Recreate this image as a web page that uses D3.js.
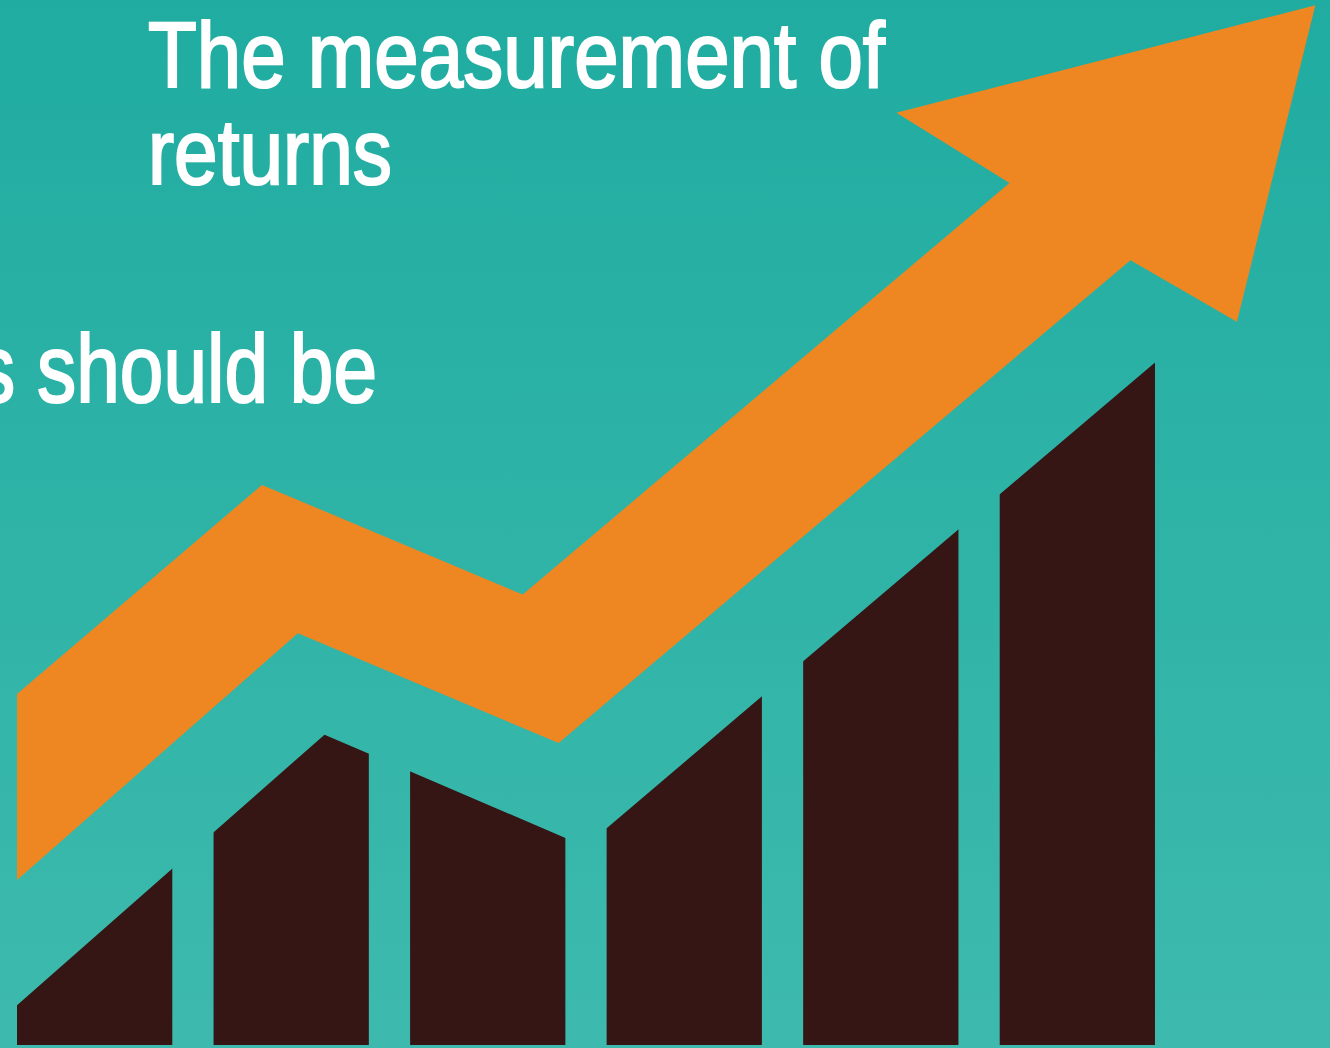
<!DOCTYPE html>
<html>
<head>
<meta charset="utf-8">
<script src="https://cdn.jsdelivr.net/npm/d3@7"></script>
<style>
    body { margin: 0; background: #2bb2a6; }
    svg { display: block; }
</style>
</head>
<body>
<div id="chart"></div>
<script>
// bar categories
const periods = ["1", "2", "3", "4", "5", "6"];

// line the slanted bar tops follow, [x %, value %]
const barCeiling = [[1.28, 3.8], [24.4, 29.7], [44.0, 19.0], [87.2, 65.7]];

// orange arrow outline: upper edge (left -> head), head, lower edge (head -> left)
const arrowUpper = [[1.28, 33.6], [19.7, 53.6], [39.3, 43.1], [75.9, 82.5]];
const arrowHead = [[67.4, 89.2], [98.9, 99.5], [93.0, 69.2], [85.0, 75.1]];
const arrowLower = [[42.0, 28.9], [22.4, 39.4], [1.28, 15.8]];

const titleLines = ["The measurement of", "returns"];
const sideText = "s should be";

class ReturnsChart {
    constructor() {
        this.width = 1330;
        this.height = 1048;
        this.baseline = 1045;

        this.svg = null;
        this.x = null;
        this.y = null;
        this.band = null;
    }

    createSVG() {
        this.svg = d3.select("#chart")
            .append("svg")
            .attr("width", this.width)
            .attr("height", this.height);

        let defs = this.svg.append("defs");
        let grad = defs.append("linearGradient")
            .attr("id", "bg")
            .attr("x1", 0).attr("y1", 0)
            .attr("x2", 0).attr("y2", 1);
        grad.append("stop").attr("offset", "0%").attr("stop-color", "#20aca1");
        grad.append("stop").attr("offset", "100%").attr("stop-color", "#3dbaad");

        this.svg.append("rect")
            .attr("width", this.width)
            .attr("height", this.height)
            .attr("fill", "url(#bg)");
    }

    init() {
        this.x = d3.scaleLinear()
            .domain([0, 100])
            .range([0, this.width]);

        this.y = d3.scaleLinear()
            .domain([0, 100])
            .range([this.baseline, 0]);

        this.band = d3.scaleBand()
            .domain(periods)
            .range([this.x(1.28), this.x(86.84)])
            .paddingInner(0.21);

        // clip the bars under the ceiling line
        let area = d3.area()
            .x(d => this.x(d[0]))
            .y0(this.y(0))
            .y1(d => this.y(d[1]));

        this.svg.select("defs")
            .append("clipPath")
            .attr("id", "ceiling")
            .append("path")
            .attr("d", area(barCeiling));

        this.svg.append("g")
            .attr("clip-path", "url(#ceiling)")
            .selectAll(".bar")
            .data(periods)
            .enter()
            .append("rect")
            .attr("class", "bar")
            .attr("x", d => this.band(d))
            .attr("y", this.y(100))
            .attr("width", this.band.bandwidth())
            .attr("height", this.y(0) - this.y(100))
            .attr("fill", "#361614");

        // Arrow
        let line = d3.line()
            .x(d => this.x(d[0]))
            .y(d => this.y(d[1]));

        this.svg.append("path")
            .attr("d", line(arrowUpper.concat(arrowHead, arrowLower)) + "Z")
            .attr("fill", "#ee8721");

        // Text (thin stroke to get the heavier condensed look)
        let font = "'Liberation Sans Narrow', 'Arial Narrow', 'Liberation Sans', sans-serif";

        let title = this.svg.append("text")
            .attr("font-family", font)
            .attr("font-size", 92)
            .attr("fill", "#ffffff")
            .attr("stroke", "#ffffff")
            .attr("stroke-width", 2.2);

        title.selectAll("tspan")
            .data(titleLines)
            .enter()
            .append("tspan")
            .attr("x", 148)
            .attr("y", (d, i) => 87 + i * 97)
            .attr("textLength", (d, i) => i === 0 ? 737 : 244)
            .attr("lengthAdjust", "spacingAndGlyphs")
            .text(d => d);

        this.svg.append("text")
            .attr("x", -24)
            .attr("y", 402)
            .attr("textLength", 401)
            .attr("lengthAdjust", "spacingAndGlyphs")
            .attr("font-family", font)
            .attr("font-size", 96)
            .attr("fill", "#ffffff")
            .attr("stroke", "#ffffff")
            .attr("stroke-width", 2.2)
            .text(sideText);
    }
}

let chart = new ReturnsChart();
chart.createSVG();
chart.init();
</script>
</body>
</html>
